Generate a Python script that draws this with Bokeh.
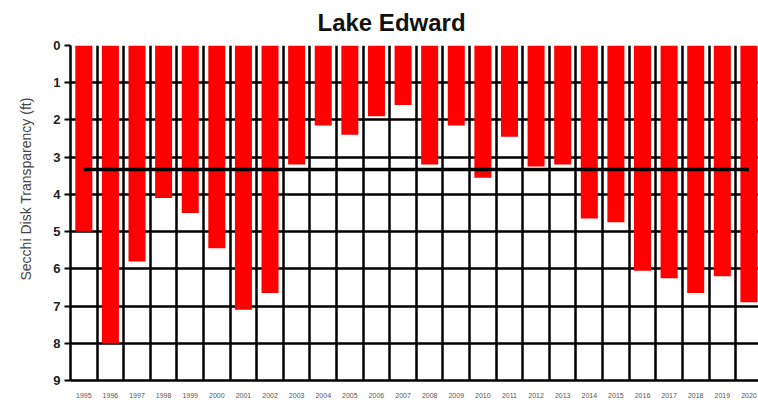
from bokeh.plotting import figure
from bokeh.models import Range1d, FixedTicker, Grid, ColumnDataSource, Title
from bokeh.embed import file_html
from bokeh.resources import INLINE

# ---- data ----
years = [str(y) for y in range(1995, 2021)]
secchi = [5.0, 8.0, 5.8, 4.1, 4.5, 5.45, 7.1, 6.65, 3.2, 2.15, 2.4, 1.9, 1.6,
          3.2, 2.15, 3.55, 2.45, 3.25, 3.2, 4.65, 4.75, 6.05, 6.25, 6.65, 6.2, 6.9]
average = 3.33
y_ticks = list(range(0, 10))
y_title = "Secchi Disk Transparency (ft)"

xpos = [i + 0.5 for i in range(len(years))]
src = ColumnDataSource(dict(x=xpos, year=years, depth=secchi))

p = figure(width=758, height=400, output_backend="svg", toolbar_location=None,
           x_range=Range1d(0, 25.86), y_range=Range1d(9, 0),
           min_border_left=70, min_border_right=0, min_border_top=45, min_border_bottom=20)
p.outline_line_color = None
p.background_fill_color = "white"
p.border_fill_color = "white"

# title
p.title.text = "Lake Edward"
p.title.text_font = "Liberation Sans"
p.title.text_font_size = "24px"
p.title.text_font_style = "bold"
p.title.text_color = "#111111"
p.title.align = "left"
p.title.vertical_align = "top"
p.title.offset = 247
p.title.standoff = 16

# y axis title, as a side title
ytitle = Title(text=y_title, align="left", vertical_align="top", offset=100, standoff=30,
               text_font="Liberation Sans", text_font_size="14px",
               text_font_style="normal", text_color="#444444")
p.add_layout(ytitle, "left")

# grids
p.xgrid.visible = False
p.ygrid.ticker = FixedTicker(ticks=y_ticks)
p.ygrid.grid_line_color = "black"
p.ygrid.grid_line_width = 2.5
vgrid = Grid(dimension=0, ticker=FixedTicker(ticks=list(range(len(years) + 1))),
             grid_line_color="black", grid_line_width=2.5)
p.add_layout(vgrid)

# bars
p.vbar(x="x", top=0, bottom="depth", width=0.64, source=src,
       fill_color="#ff0000", line_color=None)

# average line
p.line(x=[xpos[0], xpos[-1]], y=[average, average], line_color="black", line_width=3.5)

# y axis
p.yaxis.ticker = FixedTicker(ticks=y_ticks)
p.yaxis.major_label_text_font = "Liberation Sans"
p.yaxis.major_label_text_font_size = "13px"
p.yaxis.major_label_text_font_style = "bold"
p.yaxis.major_label_text_color = "#222222"
p.yaxis.axis_line_color = "black"
p.yaxis.axis_line_width = 2.5
p.yaxis.major_tick_line_color = "black"
p.yaxis.major_tick_line_width = 2
p.yaxis.major_tick_out = 6
p.yaxis.major_tick_in = 0
p.yaxis.minor_tick_line_color = None
p.yaxis.major_label_standoff = 4

# x axis
p.xaxis.ticker = FixedTicker(ticks=xpos)
p.xaxis.major_label_overrides = {x: y for x, y in zip(xpos, years)}
p.xaxis.major_label_text_font = "Liberation Sans"
p.xaxis.major_label_text_font_size = "7px"
p.xaxis.major_label_text_color = "#555555"
p.xaxis.axis_line_color = "black"
p.xaxis.axis_line_width = 2.5
p.xaxis.major_tick_line_color = None
p.xaxis.minor_tick_line_color = None
p.xaxis.major_label_standoff = 6

open("out.html", "w").write(file_html(p, INLINE))
